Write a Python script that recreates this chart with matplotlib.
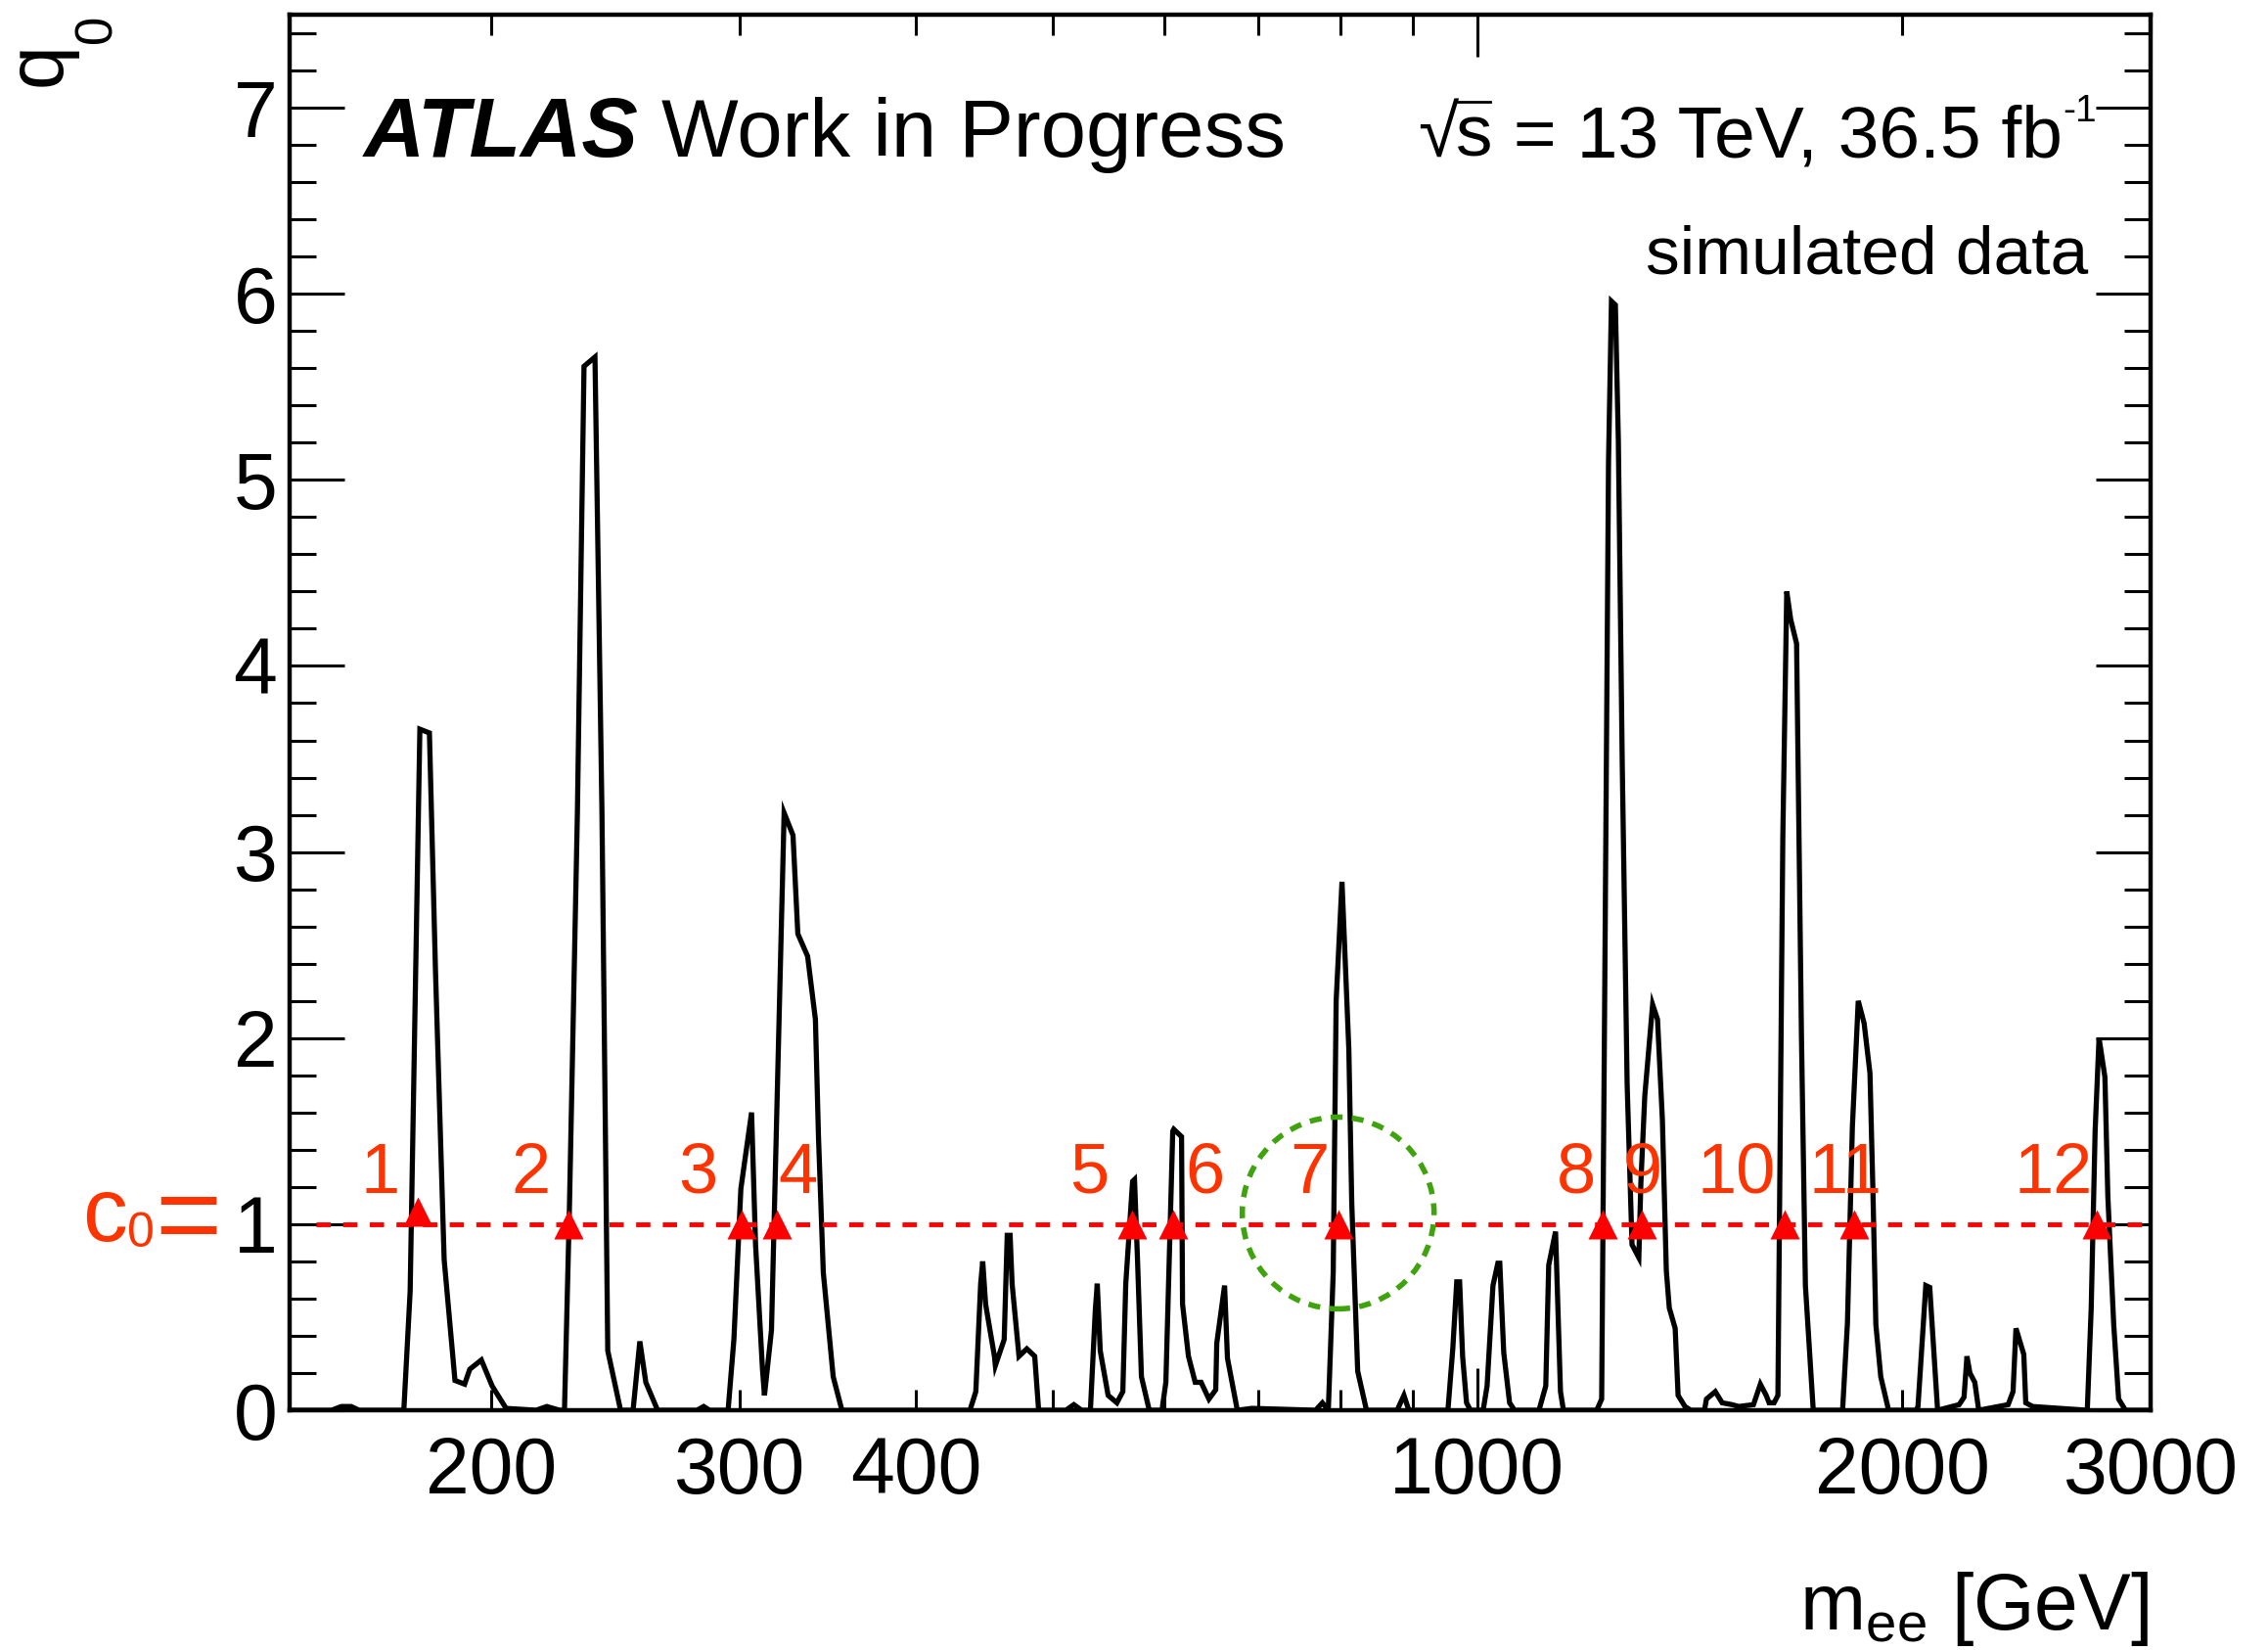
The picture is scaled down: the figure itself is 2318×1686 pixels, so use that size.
import matplotlib
matplotlib.use("Agg")
import matplotlib.pyplot as plt
from matplotlib.ticker import FixedLocator, FuncFormatter
from matplotlib.patches import Ellipse
from matplotlib.lines import Line2D

plt.rcParams["font.family"] = ["Liberation Sans", "DejaVu Sans"]
plt.rcParams["mathtext.fontset"] = "custom"
plt.rcParams["mathtext.rm"] = "Liberation Sans"
plt.rcParams["mathtext.it"] = "Liberation Sans:italic"
plt.rcParams["mathtext.bf"] = "Liberation Sans:bold"
plt.rcParams["mathtext.sf"] = "Liberation Sans"

# Local discovery test statistic q0 scanned over the dielectron mass
mass = [
    144.7, 154.2, 156.7, 159.2, 161.3, 173.5, 175.3, 178.1, 180.9, 182.7,
    185.3, 188.6, 191.6, 193.2, 196.9, 200.4, 205.0, 215.3, 219.1, 223.7,
    225.5, 227.3, 230.3, 232.8, 237.0, 239.7, 242.0, 247.1, 252.2, 255.0,
    257.5, 262.5, 279.9, 283.0, 285.7, 294.5, 297.3, 300.7, 306.0, 308.0,
    311.5, 312.5, 316.1, 319.6, 322.7, 327.4, 330.0, 335.3, 339.6, 341.3,
    344.0, 349.6, 354.6, 437.0, 441.2, 444.7, 446.2, 448.3, 454.8, 455.5,
    462.1, 464.4, 466.6, 468.1, 473.4, 479.5, 485.7, 488.8, 511.1, 517.7,
    524.3, 531.9, 536.2, 537.9, 540.5, 547.5, 555.4, 560.8, 563.5, 569.8,
    571.6, 574.4, 578.1, 585.5, 597.8, 601.6, 608.4, 609.4, 617.2, 618.2,
    624.2, 631.1, 637.2, 645.4, 652.6, 653.7, 662.1, 665.2, 676.0, 692.4,
    768.1, 776.7, 784.2, 790.5, 794.3, 801.9, 810.9, 814.8, 822.7, 834.6,
    877.4, 887.2, 894.3, 953.2, 960.8, 967.0, 971.6, 976.3, 982.6, 988.9,
    1009.6, 1016.1, 1025.9, 1034.1, 1037.4, 1044.1, 1054.1, 1062.6, 1105.9, 1118.2,
    1123.6, 1136.2, 1145.4, 1150.9, 1215.2, 1225.0, 1230.9, 1238.8, 1244.7, 1252.7,
    1258.8, 1266.8, 1277.0, 1287.2, 1301.6, 1305.9, 1314.3, 1331.2, 1341.9, 1352.6,
    1361.3, 1367.9, 1381.1, 1387.7, 1403.3, 1416.8, 1448.7, 1453.4, 1474.5, 1491.1,
    1515.1, 1532.1, 1569.3, 1587.0, 1602.2, 1609.9, 1623.0, 1633.2, 1646.3, 1656.9,
    1667.6, 1683.7, 1697.2, 1708.1, 1730.1, 1814.9, 1829.4, 1844.1, 1861.9, 1879.8,
    1897.9, 1907.0, 1916.2, 1931.6, 1956.4, 2045.9, 2052.5, 2078.9, 2092.3, 2119.3,
    2195.1, 2212.7, 2223.3, 2234.0, 2251.9, 2266.4, 2377.8, 2396.9, 2408.4, 2439.3,
    2447.2, 2474.7, 2705.6, 2723.0, 2740.4, 2758.0, 2784.6, 2797.9, 2824.9, 2847.5,
    2879.6, 2987.4,
]
q0 = [
    0.00, 0.00, 0.02, 0.02, 0.00, 0.00, 0.64, 3.66, 3.64, 2.36,
    0.81, 0.16, 0.14, 0.22, 0.27, 0.13, 0.01, 0.00, 0.02, 0.00,
    0.00, 1.07, 3.21, 5.61, 5.66, 3.23, 0.32, 0.00, 0.00, 0.37,
    0.15, 0.00, 0.00, 0.02, 0.00, 0.00, 0.38, 1.19, 1.60, 0.89,
    0.22, 0.08, 0.43, 1.90, 3.21, 3.09, 2.56, 2.44, 2.10, 1.47,
    0.74, 0.18, 0.00, 0.00, 0.10, 0.68, 0.80, 0.57, 0.29, 0.24,
    0.38, 0.94, 0.94, 0.68, 0.29, 0.33, 0.29, 0.00, 0.00, 0.03,
    0.00, 0.00, 0.54, 0.68, 0.32, 0.08, 0.04, 0.10, 0.68, 1.23,
    1.24, 0.81, 0.18, 0.00, 0.00, 0.15, 1.50, 1.51, 1.47, 0.57,
    0.29, 0.15, 0.15, 0.06, 0.11, 0.36, 0.67, 0.28, 0.00, 0.01,
    0.00, 0.04, 0.00, 0.74, 2.20, 2.84, 1.94, 1.11, 0.21, 0.00,
    0.00, 0.08, 0.00, 0.00, 0.33, 0.69, 0.69, 0.29, 0.04, 0.00,
    0.00, 0.13, 0.67, 0.79, 0.79, 0.31, 0.04, 0.00, 0.00, 0.13,
    0.78, 0.96, 0.10, 0.00, 0.00, 0.06, 2.16, 5.10, 5.96, 5.94,
    5.21, 3.48, 1.75, 0.89, 0.82, 1.22, 1.69, 2.18, 2.10, 1.56,
    0.75, 0.55, 0.44, 0.08, 0.02, 0.00, 0.00, 0.06, 0.10, 0.04,
    0.03, 0.02, 0.03, 0.14, 0.08, 0.04, 0.04, 0.08, 3.08, 4.40,
    4.25, 4.12, 2.00, 0.67, 0.00, 0.00, 0.47, 1.52, 2.20, 2.08,
    1.81, 1.18, 0.46, 0.18, 0.00, 0.00, 0.02, 0.67, 0.66, 0.00,
    0.03, 0.07, 0.29, 0.20, 0.15, 0.00, 0.03, 0.10, 0.44, 0.30,
    0.04, 0.02, 0.00, 0.55, 1.50, 2.00, 1.79, 1.15, 0.46, 0.06,
    0.00, 0.00,
]

# Threshold c0 and the masses where the scan crosses it
c0 = 1.0
c0_range = [150.3, 3000.0]
cross_mass = [177.5, 227.0, 301.2, 319.1, 568.9, 608.4, 796.9, 1227.0, 1307.0, 1651.6, 1849.8, 2749.2]
cross_q0 = [1.07, 1.0, 1.0, 1.0, 1.0, 1.0, 1.0, 1.0, 1.0, 1.0, 1.0, 1.0]
cross_labels = ["1", "2", "3", "4", "5", "6", "7", "8", "9", "10", "11", "12"]
label_mass = [166.8, 213.3, 280.3, 330.0, 531.1, 641.3, 760.8, 1175.1, 1310.1, 1527.2, 1823.7, 2559.0]
label_q0 = 1.168

# Highlighted crossing
ring_mass = 796.9
ring_q0 = 1.06

x_ticks_major = [1000]
x_ticks_minor = [200, 300, 400, 500, 600, 700, 800, 900, 2000, 3000]
x_tick_labels = {200: "200", 300: "300", 400: "400", 1000: "1000", 2000: "2000", 3000: "3000"}

W, H = 2318, 1686
fig = plt.figure(figsize=(W / 100, H / 100), dpi=100)
ax_l, ax_r, ax_t, ax_b = 296, 2198, 15, 1441
ax = fig.add_axes([ax_l / W, 1 - ax_b / H, (ax_r - ax_l) / W, (ax_b - ax_t) / H])

ax.set_xscale("log")
ax.set_xlim(144, 3000)
ax.set_ylim(0, 7.5)

red_txt = "#ff3300"

ax.plot(mass, q0, color="black", lw=3.8, zorder=3, solid_joinstyle="miter")
ax.plot(c0_range, [c0, c0], color="#ff0000", lw=3.5, dashes=(3.0, 2.6), zorder=4)
ax.plot(cross_mass, cross_q0, linestyle="none", marker="^", ms=22,
        color="#ff0000", mec="none", zorder=5)
for lm, lab in zip(label_mass, cross_labels):
    ax.text(lm, label_q0, lab, color=red_txt, fontsize=52,
            ha="center", va="baseline", zorder=6)

# dashed ring around crossing 7 (round in pixel space)
r_px = 98
fig.canvas.draw()
cx, cy = ax.transAxes.inverted().transform(ax.transData.transform((ring_mass, ring_q0)))
ring = Ellipse((cx, cy), 2 * r_px / (ax_r - ax_l), 2 * r_px / (ax_b - ax_t),
               transform=ax.transAxes, fill=False, ec="#3fa30d", lw=4.0,
               linestyle=(0, (2.2, 1.7)), zorder=6)
ax.add_patch(ring)

# axes styling
for sp in ax.spines.values():
    sp.set_linewidth(3.2)
ax.xaxis.set_major_locator(FixedLocator(x_ticks_major))
ax.xaxis.set_minor_locator(FixedLocator(x_ticks_minor))
fmt = FuncFormatter(lambda v, p: x_tick_labels.get(int(round(v)), ""))
ax.xaxis.set_major_formatter(fmt)
ax.xaxis.set_minor_formatter(fmt)
ax.yaxis.set_major_locator(FixedLocator(range(0, 8)))
ax.yaxis.set_minor_locator(FixedLocator([i * 0.2 for i in range(0, 38)]))

ax.tick_params(axis="both", which="both", direction="in", top=True, right=True,
               width=2.2, labelsize=58)
ax.tick_params(axis="x", which="major", length=31, pad=19)
ax.tick_params(axis="x", which="minor", length=15, pad=19)
ax.tick_params(axis="y", which="major", length=40, pad=9)
ax.tick_params(axis="y", which="minor", length=19.5)

renderer = fig.canvas.get_renderer()


def right_px(t):
    return t.get_window_extent(renderer).x1


# ATLAS label
fig.text(372 / W, 1 - 160 / H, "ATLAS", fontsize=62, fontweight="bold",
         fontstyle="italic", ha="left", va="baseline")
fig.text(676 / W, 1 - 160 / H, "Work in Progress", fontsize=60,
         ha="left", va="baseline")

# centre-of-mass energy and luminosity, built piece by piece
base_y = 160
fs_e = 54
t_rad = fig.text(1449 / W, 1 - base_y / H, "\u221a", fontsize=fs_e,
                 ha="left", va="baseline")
x_s = right_px(t_rad) - 2
t_s = fig.text(x_s / W, 1 - base_y / H, "s", fontsize=fs_e,
               ha="left", va="baseline")
x_s_end = right_px(t_s)
fig.add_artist(Line2D([x_s / W, (x_s_end - 3) / W],
                      [1 - 104 / H, 1 - 104 / H], color="black", lw=2.0))
t_rest = fig.text(x_s_end / W, 1 - base_y / H, " = 13 TeV, 36.5 fb",
                  fontsize=fs_e, ha="left", va="baseline")
x_rest_end = right_px(t_rest)
fig.text((x_rest_end + 1) / W, 1 - 124 / H, "-1", fontsize=28,
         ha="left", va="baseline")

fig.text(2134 / W, 1 - 280 / H, "simulated data", fontsize=50,
         ha="right", va="baseline")

# threshold tag next to the y axis
t_c = fig.text(84 / W, 1 - 1268 / H, "c", color=red_txt, fontsize=66,
               ha="left", va="baseline")
x0_sub = right_px(t_c)
t_0 = fig.text(x0_sub / W, 1 - 1274 / H, "0", color=red_txt, fontsize=36,
               ha="left", va="baseline")
x_eq = right_px(t_0)
fig.text(x_eq / W, 1 - 1281 / H, "=", color=red_txt, fontsize=84,
         ha="left", va="baseline")

fig.text(2196 / W, 1 - 1665 / H, r"m$_{\mathrm{ee}}$ [GeV]", fontsize=58,
         ha="right", va="baseline")

# y-axis title, rotated, ending at the top of the frame
fig.text(62 / W, 1 - 88 / H, "q", fontsize=58, rotation=90,
         rotation_mode="anchor", ha="left", va="baseline")
fig.text(114 / W, 1 - 44 / H, "0", fontsize=38, rotation=90,
         rotation_mode="anchor", ha="left", va="baseline")

fig.savefig("out.png", dpi=100)
